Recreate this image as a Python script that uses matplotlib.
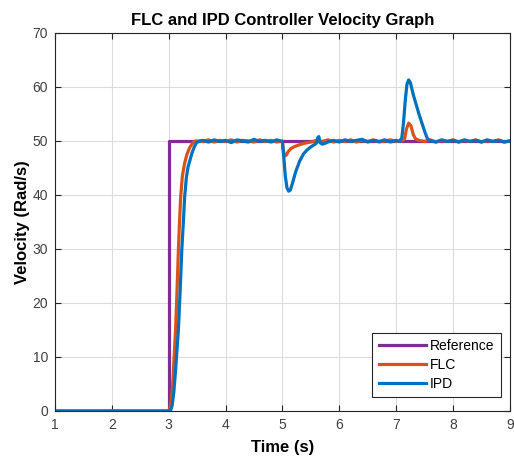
import matplotlib
matplotlib.use("Agg")
import matplotlib.pyplot as plt

# reference step
ref_t = [1.0, 3.0, 3.0, 9.0]
ref_v = [0.0, 0.0, 50.0, 50.0]

# FLC response
flc_t = [1.0, 3.01, 3.04, 3.07, 3.10, 3.12, 3.145, 3.17, 3.19, 3.21, 3.24, 3.28, 3.32, 3.37, 3.42, 3.47,
         3.6, 3.7, 3.8, 3.9, 4.0, 4.1, 4.2, 4.3, 4.4, 4.5, 4.6, 4.7, 4.8, 4.9, 5.0,
         5.01, 5.04, 5.07, 5.10, 5.15, 5.20, 5.30, 5.40, 5.50, 5.60, 5.70, 5.80, 5.90, 6.0,
         6.1, 6.2, 6.3, 6.4, 6.5, 6.6, 6.7, 6.8, 6.9, 7.0, 7.1, 7.15, 7.18, 7.22, 7.26, 7.30,
         7.34, 7.40, 7.5, 7.6, 7.7, 7.8, 7.9, 8.0, 8.1, 8.2, 8.3, 8.4, 8.5, 8.6, 8.7, 8.8, 8.9, 9.0]
flc_v = [0.0, 0.0, 1.5, 5.0, 11.0, 15.0, 22.0, 29.8, 35.0, 39.6, 43.5, 45.9, 47.5, 48.8, 49.6, 50.0,
         49.9, 50.2, 49.8, 50.1, 49.9, 50.2, 49.8, 50.1, 50.0, 49.8, 50.2, 49.9, 50.1, 49.8, 50.0,
         48.5, 47.2, 47.4, 48.0, 48.6, 48.9, 49.3, 49.6, 49.8, 50.1, 49.9, 50.2, 49.8, 50.1,
         49.9, 50.2, 49.8, 50.1, 49.9, 50.2, 49.8, 50.0, 50.2, 49.9, 50.0, 50.4, 52.2, 53.3, 52.8, 51.2,
         50.4, 50.1, 49.9, 50.2, 49.8, 50.1, 49.9, 50.2, 49.8, 50.1, 49.9, 50.2, 49.8, 50.1, 49.9, 50.2, 49.8, 50.0]

# IPD response
ipd_t = [1.0, 3.03, 3.06, 3.09, 3.12, 3.15, 3.17, 3.20, 3.23, 3.26, 3.28, 3.31, 3.34, 3.37, 3.41, 3.45, 3.49, 3.55,
         3.6, 3.7, 3.8, 3.9, 4.0, 4.1, 4.2, 4.3, 4.4, 4.5, 4.6, 4.7, 4.8, 4.9, 5.0,
         5.02, 5.05, 5.08, 5.11, 5.14, 5.18, 5.23, 5.30, 5.37, 5.44, 5.50, 5.56, 5.60, 5.62, 5.64, 5.66, 5.70,
         5.76, 5.82, 5.9, 6.0, 6.1, 6.2, 6.3, 6.4, 6.5, 6.6, 6.7, 6.8, 6.9, 7.0, 7.06,
         7.10, 7.13, 7.16, 7.19, 7.22, 7.25, 7.30, 7.35, 7.40, 7.45, 7.50, 7.55, 7.60,
         7.7, 7.8, 7.9, 8.0, 8.1, 8.2, 8.3, 8.4, 8.5, 8.6, 8.7, 8.8, 8.9, 9.0]
ipd_v = [0.0, 0.0, 1.0, 3.5, 7.5, 12.0, 15.0, 22.0, 29.8, 35.5, 39.6, 43.2, 45.2, 46.3, 47.8, 48.9, 49.7, 50.0,
         50.1, 49.8, 50.2, 49.9, 50.1, 49.7, 50.2, 50.0, 49.8, 50.3, 49.9, 50.1, 49.8, 50.2, 49.9,
         47.5, 43.5, 41.3, 40.7, 40.9, 42.3, 44.2, 46.2, 47.6, 48.4, 48.9, 49.3, 49.6, 50.6, 50.8, 49.7, 49.4,
         49.6, 49.9, 50.1, 49.8, 50.2, 49.9, 50.1, 50.3, 49.8, 50.1, 49.9, 50.2, 49.8, 50.1, 49.9,
         50.6, 53.5, 57.5, 60.5, 61.3, 60.8, 58.6, 56.8, 55.0, 53.4, 51.8, 50.4, 50.0,
         49.8, 50.2, 49.9, 50.1, 49.8, 50.2, 49.9, 50.1, 49.8, 50.2, 49.9, 50.1, 49.8, 50.0]

plt.rcParams["font.family"] = ["Liberation Sans", "DejaVu Sans"]
fig = plt.figure(figsize=(5.14, 4.57), dpi=100)
ax = fig.add_axes([0.107, 0.1007, 0.885, 0.8273])

ax.plot(ref_t, ref_v, color="#7E2F8E", lw=2.3, label="Reference")
ax.plot(flc_t, flc_v, color="#D95319", lw=2.3, label="FLC")
ax.plot(ipd_t, ipd_v, color="#0072BD", lw=2.3, label="IPD")

ax.set_xlim(1, 9); ax.set_ylim(0, 70)
ax.set_xticks(range(1, 10)); ax.set_yticks(range(0, 71, 10))
ax.grid(True, color="#dcdcdc", lw=0.8)
ax.set_axisbelow(True)
ax.tick_params(direction="in", top=True, right=True, labelsize=10, labelcolor="#404040",
               color="#262626", length=4, pad=5)
for s in ax.spines.values():
    s.set_color("#262626"); s.set_linewidth(0.8)

ax.set_title("FLC and IPD Controller Velocity Graph", fontsize=12, fontweight="bold", pad=6)
ax.set_xlabel("Time (s)", fontsize=12, fontweight="bold", labelpad=6)
ax.set_ylabel("Velocity (Rad/s)", fontsize=12, fontweight="bold", labelpad=2)

leg = ax.legend(loc="lower right", bbox_to_anchor=(0.980, 0.037), borderaxespad=0,
                fontsize=10, handlelength=3.4, fancybox=False, edgecolor="#262626",
                framealpha=1, labelspacing=0.35, handletextpad=0.3, borderpad=0.45)
leg.get_frame().set_linewidth(0.8)

fig.savefig("out.png", dpi=100)
